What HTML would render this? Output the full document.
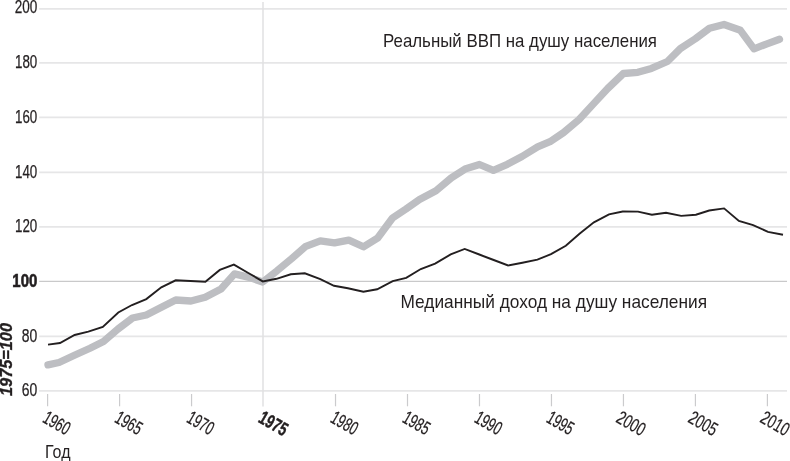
<!DOCTYPE html>
<html><head><meta charset="utf-8"><style>
html,body{margin:0;padding:0;background:#fff;width:790px;height:461px;overflow:hidden}
svg{display:block;will-change:transform}
text{font-family:"Liberation Sans",sans-serif;fill:#231f20}
</style></head><body>
<svg width="790" height="461" viewBox="0 0 790 461">
<line x1="39.2" y1="8.85" x2="787" y2="8.85" stroke="#e6e6e7" stroke-width="1.7"/>
<line x1="39.2" y1="62.80" x2="787" y2="62.80" stroke="#e6e6e7" stroke-width="1.7"/>
<line x1="39.2" y1="117.35" x2="787" y2="117.35" stroke="#e6e6e7" stroke-width="1.7"/>
<line x1="39.2" y1="172.35" x2="787" y2="172.35" stroke="#e6e6e7" stroke-width="1.7"/>
<line x1="39.2" y1="226.90" x2="787" y2="226.90" stroke="#e6e6e7" stroke-width="1.7"/>
<line x1="39.2" y1="281.45" x2="787" y2="281.45" stroke="#c9c9ca" stroke-width="1.3"/>
<line x1="39.2" y1="336.35" x2="787" y2="336.35" stroke="#e6e6e7" stroke-width="1.7"/>
<line x1="39.2" y1="390.85" x2="787" y2="390.85" stroke="#e6e6e7" stroke-width="1.7"/>
<line x1="263" y1="2" x2="263" y2="406.5" stroke="#e0e0e2" stroke-width="1.5"/>
<line x1="47.60" y1="394" x2="47.60" y2="406.3" stroke="#cbcbcd" stroke-width="1.2"/>
<line x1="119.58" y1="394" x2="119.58" y2="406.3" stroke="#cbcbcd" stroke-width="1.2"/>
<line x1="191.56" y1="394" x2="191.56" y2="406.3" stroke="#cbcbcd" stroke-width="1.2"/>
<line x1="335.52" y1="394" x2="335.52" y2="406.3" stroke="#cbcbcd" stroke-width="1.2"/>
<line x1="407.50" y1="394" x2="407.50" y2="406.3" stroke="#cbcbcd" stroke-width="1.2"/>
<line x1="479.48" y1="394" x2="479.48" y2="406.3" stroke="#cbcbcd" stroke-width="1.2"/>
<line x1="551.46" y1="394" x2="551.46" y2="406.3" stroke="#cbcbcd" stroke-width="1.2"/>
<line x1="623.44" y1="394" x2="623.44" y2="406.3" stroke="#cbcbcd" stroke-width="1.2"/>
<line x1="695.42" y1="394" x2="695.42" y2="406.3" stroke="#cbcbcd" stroke-width="1.2"/>
<line x1="767.40" y1="394" x2="767.40" y2="406.3" stroke="#cbcbcd" stroke-width="1.2"/>
<polyline points="48.0,364.9 59.0,362.5 75.0,355.0 90.0,348.2 103.5,341.5 118.0,329.0 132.5,318.0 146.3,315.0 161.4,307.2 175.7,300.0 191.0,301.0 205.2,297.2 221.0,289.0 234.5,273.9 249.2,277.4 262.7,282.0 277.0,270.8 291.5,258.8 305.8,246.3 320.3,240.8 334.5,242.8 348.8,240.1 363.4,246.8 377.5,238.2 392.5,218.0 406.0,209.0 419.5,199.5 436.0,190.8 451.3,177.9 465.0,169.1 479.5,164.5 493.4,170.3 507.3,164.3 522.0,156.5 537.6,146.9 550.0,141.7 563.5,132.6 579.1,119.5 593.0,104.4 607.7,88.5 623.4,73.5 637.8,72.3 651.4,68.4 667.4,61.5 680.3,48.6 695.4,38.8 709.5,28.3 724.0,24.5 740.4,30.3 754.0,48.8 767.0,43.8 779.5,39.2" fill="none" stroke="#bdbec2" stroke-width="7.3" stroke-linejoin="round" stroke-linecap="round"/>
<polyline points="48.0,344.6 60.0,343.0 74.6,335.0 88.3,331.7 102.8,327.0 118.3,312.5 132.0,305.0 146.3,299.1 161.3,287.3 175.7,280.3 190.5,281.0 205.4,281.7 219.8,269.9 233.9,264.6 248.3,273.0 262.8,281.4 276.5,278.8 290.8,274.3 304.8,273.3 320.3,279.2 334.0,285.8 347.9,288.2 363.4,291.8 377.2,289.3 392.7,281.2 406.2,277.9 420.8,269.0 435.1,263.6 450.7,254.4 464.7,248.9 479.3,254.5 493.7,260.0 508.1,265.5 522.4,262.7 537.4,259.7 551.0,254.2 565.8,245.8 579.5,233.7 593.9,222.3 609.0,214.4 622.7,211.5 638.0,211.6 651.9,214.7 666.0,212.8 681.2,215.9 695.9,214.7 709.2,210.5 724.1,208.4 738.9,221.0 753.1,225.1 768.0,231.9 783.0,234.8" fill="none" stroke="#231f20" stroke-width="1.9" stroke-linejoin="miter" stroke-linecap="butt"/>
<text x="37.3" y="13.1" text-anchor="end" font-size="17.6" font-weight="normal" stroke="#231f20" stroke-width="0.25" textLength="22.6" lengthAdjust="spacingAndGlyphs">200</text>
<text x="37.3" y="68.0" text-anchor="end" font-size="17.6" font-weight="normal" stroke="#231f20" stroke-width="0.25" textLength="22.3" lengthAdjust="spacingAndGlyphs">180</text>
<text x="37.3" y="122.55" text-anchor="end" font-size="17.6" font-weight="normal" stroke="#231f20" stroke-width="0.25" textLength="22.3" lengthAdjust="spacingAndGlyphs">160</text>
<text x="37.3" y="177.55" text-anchor="end" font-size="17.6" font-weight="normal" stroke="#231f20" stroke-width="0.25" textLength="22.3" lengthAdjust="spacingAndGlyphs">140</text>
<text x="37.3" y="232.1" text-anchor="end" font-size="17.6" font-weight="normal" stroke="#231f20" stroke-width="0.25" textLength="22.3" lengthAdjust="spacingAndGlyphs">120</text>
<text x="37.3" y="286.65" text-anchor="end" font-size="17.6" font-weight="bold" stroke="#231f20" stroke-width="0.6" textLength="25" lengthAdjust="spacingAndGlyphs">100</text>
<text x="37.3" y="341.55" text-anchor="end" font-size="17.6" font-weight="normal" stroke="#231f20" stroke-width="0.25" textLength="15.5" lengthAdjust="spacingAndGlyphs">80</text>
<text x="37.3" y="396.05" text-anchor="end" font-size="17.6" font-weight="normal" stroke="#231f20" stroke-width="0.25" textLength="15.5" lengthAdjust="spacingAndGlyphs">60</text>
<text transform="translate(11.8,396) rotate(-90)" font-size="16.5" font-weight="bold" font-style="italic" stroke="#231f20" stroke-width="0.35" textLength="73" lengthAdjust="spacingAndGlyphs">1975=100</text>
<text transform="translate(41.50,421.5) rotate(30)" font-size="19" font-weight="normal" stroke="#231f20" stroke-width="0.25" textLength="28" lengthAdjust="spacingAndGlyphs">1960</text>
<text transform="translate(113.45,421.5) rotate(30)" font-size="19" font-weight="normal" stroke="#231f20" stroke-width="0.25" textLength="28" lengthAdjust="spacingAndGlyphs">1965</text>
<text transform="translate(185.40,421.5) rotate(30)" font-size="19" font-weight="normal" stroke="#231f20" stroke-width="0.25" textLength="28" lengthAdjust="spacingAndGlyphs">1970</text>
<text transform="translate(257.35,421.5) rotate(30)" font-size="19" font-weight="bold" stroke="#231f20" stroke-width="0.45" textLength="30" lengthAdjust="spacingAndGlyphs">1975</text>
<text transform="translate(329.30,421.5) rotate(30)" font-size="19" font-weight="normal" stroke="#231f20" stroke-width="0.25" textLength="28" lengthAdjust="spacingAndGlyphs">1980</text>
<text transform="translate(401.25,421.5) rotate(30)" font-size="19" font-weight="normal" stroke="#231f20" stroke-width="0.25" textLength="28" lengthAdjust="spacingAndGlyphs">1985</text>
<text transform="translate(473.20,421.5) rotate(30)" font-size="19" font-weight="normal" stroke="#231f20" stroke-width="0.25" textLength="28" lengthAdjust="spacingAndGlyphs">1990</text>
<text transform="translate(545.15,421.5) rotate(30)" font-size="19" font-weight="normal" stroke="#231f20" stroke-width="0.25" textLength="28" lengthAdjust="spacingAndGlyphs">1995</text>
<text transform="translate(615.10,421.5) rotate(30)" font-size="19" font-weight="normal" stroke="#231f20" stroke-width="0.25" textLength="30" lengthAdjust="spacingAndGlyphs">2000</text>
<text transform="translate(687.05,421.5) rotate(30)" font-size="19" font-weight="normal" stroke="#231f20" stroke-width="0.25" textLength="30" lengthAdjust="spacingAndGlyphs">2005</text>
<text transform="translate(759.00,421.5) rotate(30)" font-size="19" font-weight="normal" stroke="#231f20" stroke-width="0.25" textLength="30" lengthAdjust="spacingAndGlyphs">2010</text>
<text x="45" y="457.5" font-size="17.6" textLength="25.5" lengthAdjust="spacingAndGlyphs">Год</text>
<text x="383" y="47.1" font-size="17.9" textLength="274" lengthAdjust="spacingAndGlyphs">Реальный ВВП на душу населения</text>
<text x="400.5" y="308.2" font-size="17.9" textLength="306.5" lengthAdjust="spacingAndGlyphs">Медианный доход на душу населения</text>
</svg>
</body></html>
